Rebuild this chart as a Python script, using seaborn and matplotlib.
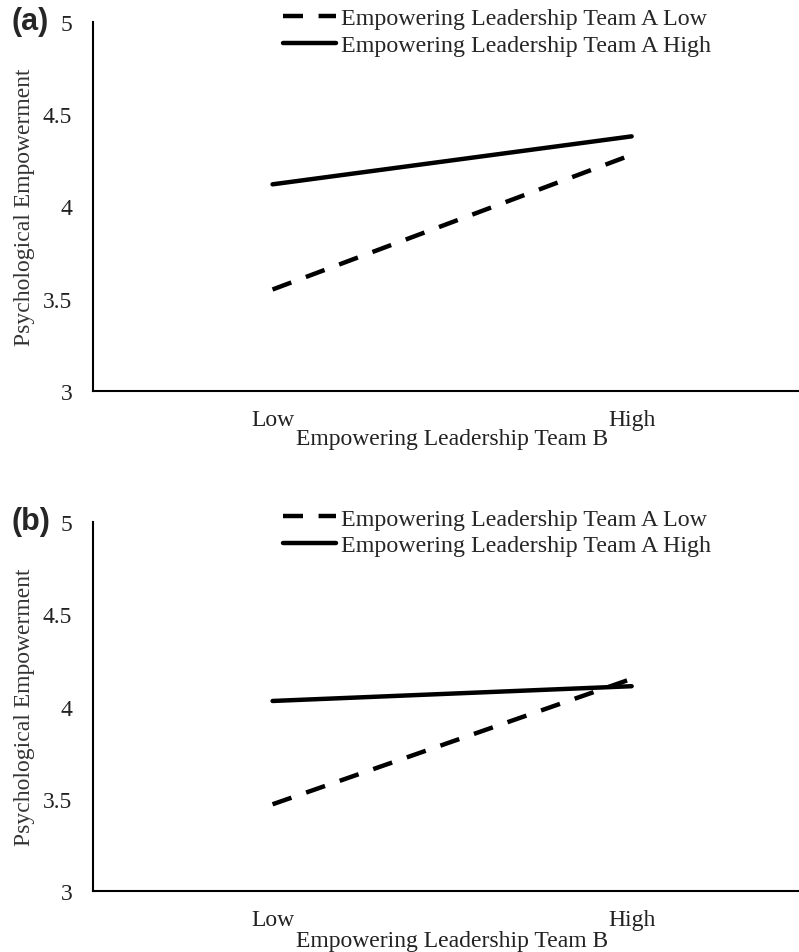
import pandas as pd
import seaborn as sns
import matplotlib.pyplot as plt
from matplotlib.lines import Line2D

# Valeurs
team_b = ['Low', 'High']
a_low = [3.55, 4.28]
a_high = [4.12, 4.38]
b_low = [3.47, 4.15]
b_high = [4.03, 4.11]

lab_low = 'Empowering Leadership Team A Low'
lab_high = 'Empowering Leadership Team A High'

sns.set_theme(style='white')
plt.rcParams['font.family'] = ['Liberation Serif', 'DejaVu Serif']
plt.rcParams['font.size'] = 17

fig = plt.figure(figsize=(7.99, 9.53), dpi=100)
ax_a = fig.add_axes([0.1164, 0.5887, 0.8836, 0.3872])
ax_b = fig.add_axes([0.1164, 0.0640, 0.8836, 0.3872])


def panel(ax, low, high, letter, xlab_y):
    df = pd.DataFrame({
        'team_b': team_b * 2,
        'pe': low + high,
        'team_a': [lab_low] * len(low) + [lab_high] * len(high),
    })
    df['pos'] = df['team_b'].map({c: i for i, c in enumerate(team_b)})
    sns.lineplot(data=df, x='pos', y='pe', style='team_a',
                 dashes={lab_low: (4.5, 3.5), lab_high: ''},
                 color='black', lw=3.2, legend=False, ax=ax)
    ax.set_xlim(-0.5, 1.466)
    ax.set_ylim(3, 5)
    ax.set_xticks(range(len(team_b)))
    ax.set_xticklabels(team_b)
    ax.set_yticks([3, 3.5, 4, 4.5, 5])
    ax.set_yticklabels(['3', '3.5', '4', '4.5', '5'])
    ax.tick_params(axis='y', length=0, pad=15, labelsize=17, colors='#222222')
    ax.tick_params(axis='x', length=0, pad=13, labelsize=17, colors='#222222')
    for s in ['top', 'right']:
        ax.spines[s].set_visible(False)
    for s in ['left', 'bottom']:
        ax.spines[s].set_color('black')
        ax.spines[s].set_linewidth(1.5)
    ax.set_ylabel('Psychological Empowerment', fontsize=17, color='#333333')
    ax.yaxis.set_label_coords(-0.082, 0.5)
    ax.set_xlabel('Empowering Leadership Team B', fontsize=17, color='#222222')
    ax.xaxis.set_label_coords(0.508, xlab_y)

    handles = [Line2D([], [], color='black', lw=3.2, dashes=(4.5, 3.5)),
               Line2D([], [], color='black', lw=3.2)]
    bb = ax.get_position()
    fig.legend(handles, [lab_low, lab_high], loc='upper left',
               bbox_to_anchor=(0.354, bb.y1 + 0.015), frameon=False,
               borderpad=0, borderaxespad=0, handlelength=2.2,
               handletextpad=0.2, labelspacing=0.2, fontsize=17.3)
    fig.text(0.015, bb.y1 + 0.001, letter, fontsize=22, fontweight='bold',
             family='Liberation Sans', va='center', ha='left')


panel(ax_a, a_low, a_high, '(a)', -0.1)
panel(ax_b, b_low, b_high, '(b)', -0.107)

fig.savefig('out.png', dpi=100)
